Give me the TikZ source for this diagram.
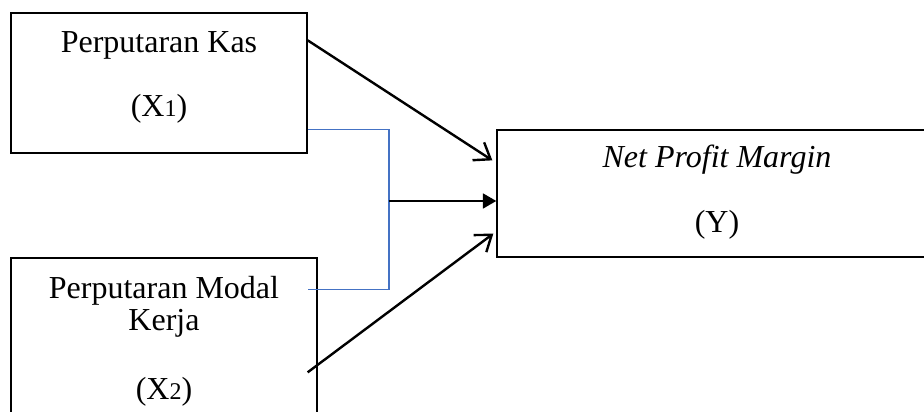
\documentclass[tikz,border=0pt]{standalone}
\usepackage{fontspec}
\setmainfont{Liberation Serif}
\usetikzlibrary{arrows.meta,calc}

\definecolor{linkblue}{RGB}{68,114,196}

% variable label with small index on the baseline
\newcommand{\xvar}[1]{(X{\fontsize{9}{9}\selectfont #1})}

\begin{document}
\begin{tikzpicture}[x=0.375pt,y=-0.375pt,font=\fontsize{12}{14}\selectfont,
  box/.style={draw,line width=0.5pt,inner sep=0pt},
  txt/.style={anchor=base,inner sep=0pt},
  link/.style={line width=0.9pt},
  bracket/.style={draw=linkblue,line width=0.6pt}]

  \useasboundingbox (0,0) rectangle (924,412);
  \clip (0,0) rectangle (924,412);

  % Boxes
  \node[box,minimum width=111pt,minimum height=52.5pt] (kas) at (159,83) {};
  \node[box,minimum width=114.75pt,minimum height=68.25pt] (modal) at (164,349) {};
  \node[box,minimum width=174pt,minimum height=47.6pt] (npm) at (729,193.5) {};

  % Texts
  \node[txt] (kasname) at (159,53) {Perputaran Kas};
  \node[txt] (kasvar) at (159,117) {\xvar{1}};

  \node[txt] (modalname) at (164,299) {Perputaran Modal};
  \node[txt] (modalname2) at (164,331) {Kerja};
  \node[txt] (modalvar) at (164,400) {\xvar{2}};

  \node[txt] (npmname) at (717,168) {\textit{Net Profit Margin}};
  \node[txt] (npmvar) at (717,233) {(Y)};

  % Partial effects
  \draw[link,-{Straight Barb[length=5.5pt,width=8pt]}]
    ($(kas.north east)+(0,28)$) -- ($(npm.north west)+(-4,31)$);
  \draw[link,-{Straight Barb[length=5.5pt,width=8pt]}]
    ($(modal.north east)+(-10,115)$) -- ($(npm.south west)+(-3,-24)$);

  % Joint effect
  \coordinate (join) at (389,201);
  \draw[bracket]
    ($(kas.south east)+(0,-24)$) -| (join) |- ($(modal.north east)+(-10,32)$);
  \draw[link,-{Triangle[length=5pt,width=5.5pt]}] (join) -- (join -| npm.west);

\end{tikzpicture}
\end{document}
